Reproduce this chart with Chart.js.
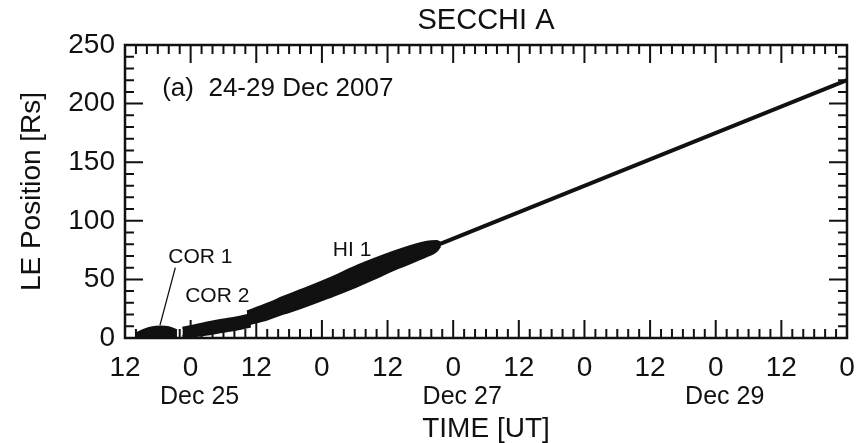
<!DOCTYPE html>
<html>
<head>
<meta charset="utf-8">
<script src="https://cdn.jsdelivr.net/npm/chart.js@4/dist/chart.umd.min.js"></script>
<style>
  html, body { margin: 0; padding: 0; background: #fff; }
  #wrap { width: 856px; height: 443px; }
</style>
</head>
<body>
<div id="wrap"><canvas id="c" width="856" height="443"></canvas></div>
<script>
// Time is counted in hours after 24 Dec 2007 12:00 UT.
const xTickHours = [0, 12, 24, 36, 48, 60, 72, 84, 96, 108, 120, 132];
const xTickLabels = ['12', '0', '12', '0', '12', '0', '12', '0', '12', '0', '12', '0'];
const dateLabels = ['Dec 25', 'Dec 27', 'Dec 29'];
const dateLabelHours = [12, 60, 108];
const yTickValues = [0, 50, 100, 150, 200, 250];
const yTickLabels = ['0', '50', '100', '150', '200', '250'];

// Leading-edge position [Rs] per instrument: track centre and half spread.
const cor1Hours  = [2.0, 3.5, 5.0, 6.5, 8.0, 9.5];
const cor1Pos    = [1.5, 3.0, 4.0, 4.5, 4.5, 3.5];
const cor1Spread = [2.0, 4.0, 5.0, 5.0, 4.5, 3.0];

const cor2Hours  = [10.5, 13.0, 15.5, 18.0, 20.5, 23.0];
const cor2Pos    = [5.0, 6.5, 8.5, 10.5, 12.5, 15.0];
const cor2Spread = [3.5, 4.5, 5.0, 5.0, 5.0, 5.0];

const hi1Hours  = [22.3, 26.0, 29.0, 32.0, 38.0, 41.0, 44.0, 50.0, 55.2, 57.0, 57.6];
const hi1Pos    = [17.0, 22.5, 28.0, 33.0, 44.0, 50.0, 56.0, 67.5, 76.0, 78.5, 80.0];
const hi1Spread = [5.5, 6.5, 7.0, 7.5, 8.0, 8.5, 8.5, 7.5, 6.0, 4.0, 1.5];

// Constant-speed fit carried forward to the end of the interval.
const fitHours = [54, 132];
const fitPos   = [73.5, 220];

// Pointer from the COR 1 label to its track.
const pointerHours = [6.4, 9.2];
const pointerPos   = [11, 60];

// Annotation texts and their anchor points (hours, Rs).
const notes = [
  { text: '(a)  24-29 Dec 2007', h: 6.8, r: 213, size: 26 },
  { text: 'COR 1', h: 7.9, r: 69, size: 21 },
  { text: 'COR 2', h: 11.0, r: 36, size: 21 },
  { text: 'HI 1', h: 38.0, r: 75, size: 21 }
];

const ink = '#111';
const fontFamily = '"Liberation Sans", Arial, Helvetica, sans-serif';
const xMinorStep = 2, xMajorStep = 12;
const yMinorStep = 10, yMajorStep = 50;

function pts(hours, vals, spread, sign) {
  return hours.map((h, i) => ({ x: h, y: vals[i] + (spread ? sign * spread[i] : 0) }));
}

function band(hours, vals, spread) {
  const base = { borderColor: ink, backgroundColor: ink, borderWidth: 2.5,
                 pointRadius: 0, cubicInterpolationMode: 'monotone' };
  return [
    Object.assign({}, base, { data: pts(hours, vals, spread, -1), fill: false }),
    Object.assign({}, base, { data: pts(hours, vals, spread, 1), fill: '-1' })
  ];
}

const frame = {
  id: 'frame',
  afterDatasetsDraw(chart) {
    const { ctx, chartArea: a, scales: { x, y } } = chart;
    ctx.save();
    ctx.strokeStyle = ink;
    ctx.lineWidth = 2;
    ctx.beginPath();
    for (let h = x.min; h <= x.max + 1e-9; h += xMinorStep) {
      const px = x.getPixelForValue(h);
      const len = (Math.round(h) % xMajorStep === 0) ? 18 : 9;
      ctx.moveTo(px, a.bottom); ctx.lineTo(px, a.bottom - len);
      ctx.moveTo(px, a.top);    ctx.lineTo(px, a.top + len);
    }
    for (let v = y.min; v <= y.max + 1e-9; v += yMinorStep) {
      const py = y.getPixelForValue(v);
      const len = (Math.round(v) % yMajorStep === 0) ? 18 : 9;
      ctx.moveTo(a.left, py);  ctx.lineTo(a.left + len, py);
      ctx.moveTo(a.right, py); ctx.lineTo(a.right - len, py);
    }
    ctx.stroke();
    ctx.lineWidth = 2.5;
    ctx.strokeRect(a.left, a.top, a.right - a.left, a.bottom - a.top);

    ctx.fillStyle = ink;
    ctx.textBaseline = 'middle';
    ctx.textAlign = 'center';
    ctx.font = '25px ' + fontFamily;
    dateLabels.forEach((t, i) => {
      ctx.fillText(t, x.getPixelForValue(dateLabelHours[i]) + 9, a.bottom + 59);
    });
    ctx.textAlign = 'left';
    notes.forEach(n => {
      ctx.font = n.size + 'px ' + fontFamily;
      ctx.fillText(n.text, x.getPixelForValue(n.h), y.getPixelForValue(n.r));
    });
    ctx.restore();
  }
};

new Chart(document.getElementById('c'), {
  type: 'line',
  data: {
    datasets: [
      ...band(cor1Hours, cor1Pos, cor1Spread),
      ...band(cor2Hours, cor2Pos, cor2Spread),
      ...band(hi1Hours, hi1Pos, hi1Spread),
      { data: pts(fitHours, fitPos), borderColor: ink, borderWidth: 4, pointRadius: 0, fill: false },
      { data: pts(pointerHours, pointerPos), borderColor: ink, borderWidth: 1.3, pointRadius: 0, fill: false }
    ]
  },
  options: {
    responsive: false,
    animation: false,
    devicePixelRatio: 1,
    layout: { padding: { left: 0, right: 9, top: 0, bottom: 0 } },
    plugins: {
      legend: { display: false },
      tooltip: { enabled: false },
      title: {
        display: true,
        text: 'SECCHI A',
        fullSize: false,
        color: ink,
        font: { family: fontFamily, size: 29, weight: 'normal', lineHeight: 1 },
        padding: { top: 6, bottom: 10 }
      }
    },
    scales: {
      x: {
        type: 'linear',
        min: 0,
        max: 132,
        grid: { display: false, drawTicks: false },
        border: { display: false },
        afterBuildTicks: s => { s.ticks = xTickHours.map(v => ({ value: v })); },
        afterFit: s => { s.height = 105; },
        ticks: {
          autoSkip: false,
          maxRotation: 0,
          padding: 0,
          color: ink,
          font: { family: fontFamily, size: 28, lineHeight: 60 / 28 },
          callback: (v, i) => xTickLabels[i]
        },
        title: {
          display: true,
          text: 'TIME [UT]',
          color: ink,
          font: { family: fontFamily, size: 28, lineHeight: 1 },
          padding: { top: 0, bottom: 0 }
        }
      },
      y: {
        type: 'linear',
        min: 0,
        max: 250,
        grid: { display: false, drawTicks: false },
        border: { display: false },
        afterBuildTicks: s => { s.ticks = yTickValues.map(v => ({ value: v })); },
        afterFit: s => { s.width = 125; },
        ticks: {
          padding: 10,
          color: ink,
          font: { family: fontFamily, size: 28, lineHeight: 1 },
          callback: (v, i) => yTickLabels[i]
        },
        title: {
          display: true,
          text: 'LE Position [Rs]',
          color: ink,
          font: { family: fontFamily, size: 28, lineHeight: 1 },
          padding: { top: 18, bottom: 0 }
        }
      }
    }
  },
  plugins: [frame]
});
</script>
</body>
</html>
